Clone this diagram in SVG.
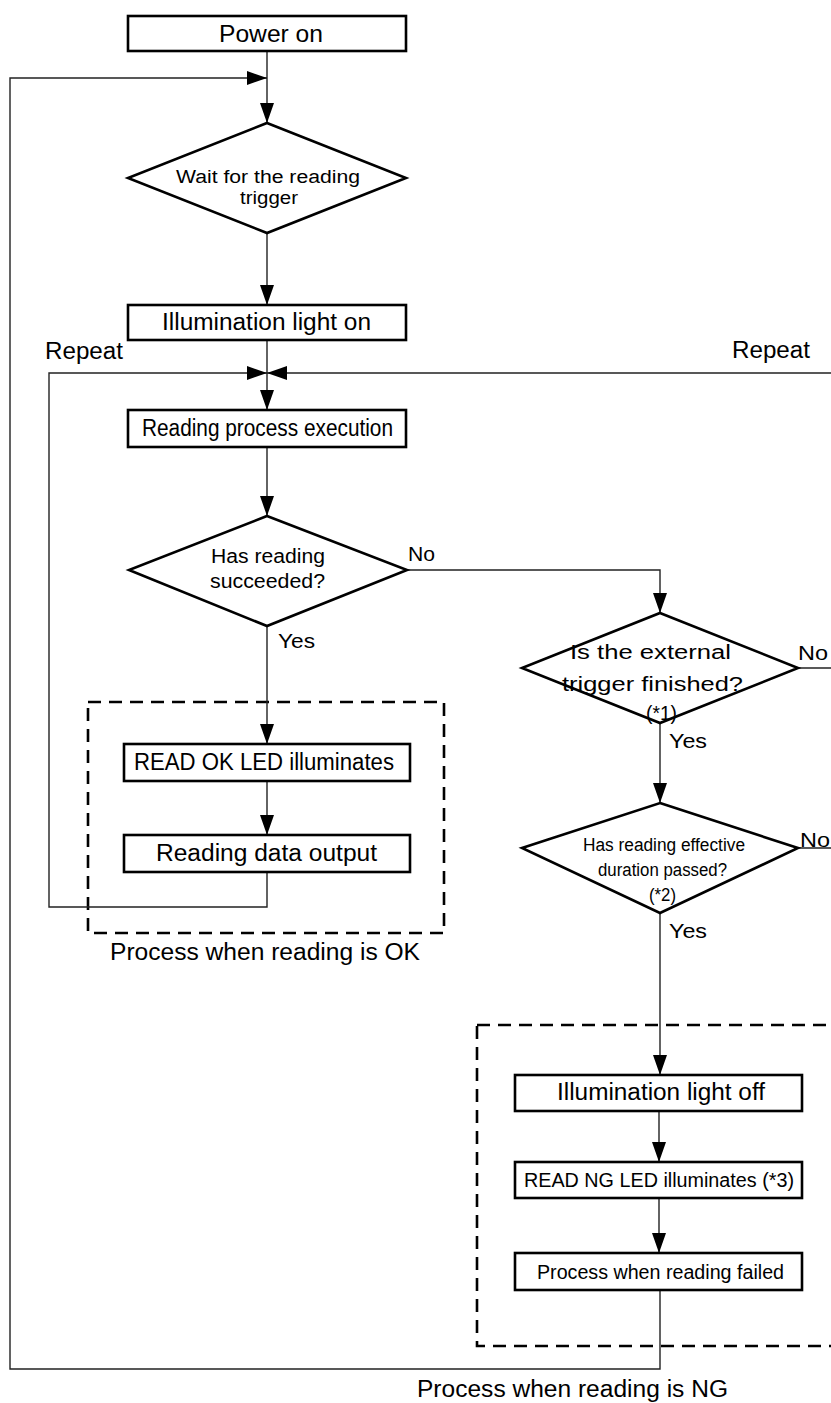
<svg xmlns="http://www.w3.org/2000/svg" width="831" height="1403" viewBox="0 0 831 1403">
<style>
.box{fill:#fff;stroke:#000;stroke-width:2.6}
.dash{fill:none;stroke:#000;stroke-width:2.6;stroke-dasharray:13 8}
.con{fill:none;stroke:#222;stroke-width:1.4}
.t{font-family:"Liberation Sans",Arial,sans-serif;font-size:23.5px;fill:#000}
.s{font-family:"Liberation Sans",Arial,sans-serif;font-size:20px;fill:#000}
.xs{font-family:"Liberation Sans",Arial,sans-serif;font-size:18px;fill:#000}
</style>
<defs>
<marker id="ah" markerUnits="userSpaceOnUse" markerWidth="22" markerHeight="16" refX="20" refY="7" orient="auto">
<path d="M0,0 L20,7 L0,14 Z" fill="#000"/>
</marker>
</defs>
<rect width="831" height="1403" fill="#fff"/>

<g id="groups">
<rect id="ok-group" class="dash" x="88" y="702" width="356" height="231"/>
<rect id="ng-group" class="dash" x="477" y="1025" width="400" height="321"/>
<text class="t" x="110" y="960" textLength="310" lengthAdjust="spacingAndGlyphs">Process when reading is OK</text>
<text class="t" x="417" y="1397" textLength="311" lengthAdjust="spacingAndGlyphs">Process when reading is NG</text>
</g>

<g id="connectors">
<path class="con" d="M267,51 V123" marker-end="url(#ah)"/>
<path class="con" d="M660,1290 V1369 H10 V78 H267" marker-end="url(#ah)"/>
<path class="con" d="M267,233 V305" marker-end="url(#ah)"/>
<path class="con" d="M267,340 V410" marker-end="url(#ah)"/>
<path class="con" d="M267,872 V907 H49 V373 H267" marker-end="url(#ah)"/>
<path class="con" d="M798,668 H840"/>
<path class="con" d="M798,848 H840 V373 H267" marker-end="url(#ah)"/>
<path class="con" d="M267,447 V516" marker-end="url(#ah)"/>
<path class="con" d="M407,570 H660 V613" marker-end="url(#ah)"/>
<path class="con" d="M267,626 V744" marker-end="url(#ah)"/>
<path class="con" d="M267,781 V835" marker-end="url(#ah)"/>
<path class="con" d="M660,723 V803" marker-end="url(#ah)"/>
<path class="con" d="M660,913 V1075" marker-end="url(#ah)"/>
<path class="con" d="M659,1111 V1162" marker-end="url(#ah)"/>
<path class="con" d="M659,1198 V1253" marker-end="url(#ah)"/>
</g>

<g id="labels">
<text class="t" x="45" y="359" textLength="78" lengthAdjust="spacingAndGlyphs">Repeat</text>
<text class="t" x="732" y="358" textLength="78" lengthAdjust="spacingAndGlyphs">Repeat</text>
<text class="s" x="408" y="561" textLength="27" lengthAdjust="spacingAndGlyphs">No</text>
<text class="s" x="278" y="648" textLength="37" lengthAdjust="spacingAndGlyphs">Yes</text>
<text class="s" x="798" y="660" textLength="30" lengthAdjust="spacingAndGlyphs">No</text>
<text class="s" x="669" y="748" textLength="38" lengthAdjust="spacingAndGlyphs">Yes</text>
<text class="s" x="800" y="847" textLength="30" lengthAdjust="spacingAndGlyphs">No</text>
<text class="s" x="669" y="938" textLength="38" lengthAdjust="spacingAndGlyphs">Yes</text>
</g>

<g id="power-on">
<rect class="box" x="128" y="16" width="278" height="35"/>
<text class="t" x="219" y="41.5" textLength="104" lengthAdjust="spacingAndGlyphs">Power on</text>
</g>

<g id="wait-trigger">
<polygon class="box" points="267,123 406,178 267,233 128,178"/>
<text class="xs" x="176" y="183" textLength="184" lengthAdjust="spacingAndGlyphs">Wait for the reading</text>
<text class="xs" x="240" y="204" textLength="58" lengthAdjust="spacingAndGlyphs">trigger</text>
</g>

<g id="illum-on">
<rect class="box" x="128" y="305" width="278" height="35"/>
<text class="t" x="162" y="330" textLength="209" lengthAdjust="spacingAndGlyphs">Illumination light on</text>
</g>

<g id="reading-process">
<rect class="box" x="128" y="410" width="278" height="37"/>
<text class="t" x="142" y="436" textLength="251" lengthAdjust="spacingAndGlyphs">Reading process execution</text>
</g>

<g id="reading-succeeded">
<polygon class="box" points="267,516 407,570 267,626 129,570"/>
<text class="s" x="211" y="563" textLength="114" lengthAdjust="spacingAndGlyphs">Has reading</text>
<text class="s" x="210" y="588" textLength="115" lengthAdjust="spacingAndGlyphs">succeeded?</text>
</g>

<g id="read-ok-led">
<rect class="box" x="124" y="744" width="286" height="37"/>
<text class="t" x="134" y="770" textLength="260" lengthAdjust="spacingAndGlyphs">READ OK LED illuminates</text>
</g>

<g id="data-output">
<rect class="box" x="124" y="835" width="286" height="37"/>
<text class="t" x="156" y="861" textLength="221" lengthAdjust="spacingAndGlyphs">Reading data output</text>
</g>

<g id="ext-trigger">
<polygon class="box" points="660,613 798,668 660,723 522,668"/>
<text class="s" x="570" y="659" textLength="161" lengthAdjust="spacingAndGlyphs">Is the external</text>
<text class="s" x="562" y="691" textLength="181" lengthAdjust="spacingAndGlyphs">trigger finished?</text>
<text class="s" x="646" y="720" textLength="31" lengthAdjust="spacingAndGlyphs">(*1)</text>
</g>

<g id="duration-passed">
<polygon class="box" points="660,803 798,848 660,913 522,848"/>
<text class="xs" x="583" y="851" textLength="162" lengthAdjust="spacingAndGlyphs">Has reading effective</text>
<text class="xs" x="598" y="876" textLength="129" lengthAdjust="spacingAndGlyphs">duration passed?</text>
<text class="xs" x="649" y="901" textLength="27" lengthAdjust="spacingAndGlyphs">(*2)</text>
</g>

<g id="illum-off">
<rect class="box" x="515" y="1075" width="287" height="36"/>
<text class="t" x="557" y="1100" textLength="208" lengthAdjust="spacingAndGlyphs">Illumination light off</text>
</g>

<g id="read-ng-led">
<rect class="box" x="515" y="1162" width="287" height="36"/>
<text class="s" x="524" y="1187" textLength="270" lengthAdjust="spacingAndGlyphs">READ NG LED illuminates (*3)</text>
</g>

<g id="reading-failed">
<rect class="box" x="515" y="1253" width="287" height="37"/>
<text class="s" x="537" y="1279" textLength="247" lengthAdjust="spacingAndGlyphs">Process when reading failed</text>
</g>
</svg>
